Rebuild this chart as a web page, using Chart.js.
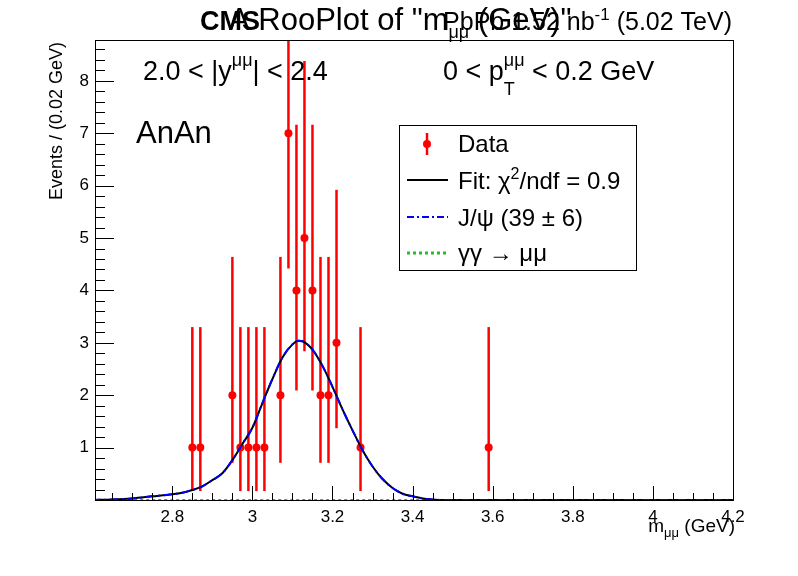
<!DOCTYPE html>
<html>
<head>
<meta charset="utf-8">
<script src="https://cdn.jsdelivr.net/npm/chart.js@4"></script>
<style>
html, body { margin: 0; padding: 0; background: #fff; }
</style>
</head>
<body>
<canvas id="myChart" width="798" height="576"></canvas>
<script>
// data
var massBins = [2.85, 2.87, 2.95, 2.97, 2.99, 3.01, 3.03, 3.07, 3.09, 3.11, 3.13, 3.15, 3.17, 3.19, 3.21, 3.27, 3.59];
var counts   = [1, 1, 2, 1, 1, 1, 1, 2, 7, 4, 5, 4, 2, 2, 3, 1, 1];
var errLow   = [0.17, 0.17, 0.71, 0.17, 0.17, 0.17, 0.17, 0.71, 4.42, 2.09, 2.84, 2.09, 0.71, 0.71, 1.37, 0.17, 0.17];
var errHigh  = [3.30, 3.30, 4.64, 3.30, 3.30, 3.30, 3.30, 4.64, 10.77, 7.16, 8.38, 7.16, 4.64, 4.64, 5.92, 3.30, 3.30];

var curveMass  = [2.60, 2.65, 2.70, 2.75, 2.80, 2.825, 2.85, 2.875, 2.90, 2.925, 2.95, 2.975, 3.00, 3.025, 3.05, 3.075, 3.10, 3.115, 3.125, 3.15, 3.175, 3.20, 3.225, 3.25, 3.275, 3.30, 3.325, 3.35, 3.375, 3.40, 3.425, 3.45, 3.475, 4.20];
var fitValues  = [0.00, 0.01, 0.03, 0.07, 0.11, 0.14, 0.19, 0.26, 0.38, 0.51, 0.76, 1.07, 1.38, 1.85, 2.31, 2.72, 2.97, 3.04, 3.03, 2.87, 2.56, 2.16, 1.73, 1.33, 0.95, 0.64, 0.40, 0.23, 0.12, 0.07, 0.03, 0.01, 0.00, 0.00];
var jpsiValues = [0.00, 0.01, 0.03, 0.07, 0.11, 0.14, 0.19, 0.26, 0.38, 0.51, 0.76, 1.07, 1.38, 1.85, 2.31, 2.72, 2.97, 3.04, 3.03, 2.87, 2.56, 2.16, 1.73, 1.33, 0.95, 0.64, 0.40, 0.23, 0.12, 0.07, 0.03, 0.01, 0.00, 0.00];
var ggMass     = [2.60, 4.20];
var ggValues   = [0.00, 0.00];

var xTicks = [2.8, 3, 3.2, 3.4, 3.6, 3.8, 4, 4.2];
var yTicks = [1, 2, 3, 4, 5, 6, 7, 8];

var FONT = '"Liberation Sans", Arial, sans-serif';

function toXY(xs, ys) {
    return xs.map(function (x, i) { return {x: x, y: ys[i]}; });
}

// draws text with sub/superscripts; each part: t, s (size), dy, bold, stay
function drawRich(ctx, parts, x, y, align) {
    var total = 0;
    parts.forEach(function (p) {
        ctx.font = (p.bold ? 'bold ' : '') + p.s + 'px ' + FONT;
        p.w = ctx.measureText(p.t).width;
        if (!p.stay) total += p.w;
    });
    var cx = align === 'right' ? x - total : x;
    ctx.textAlign = 'left';
    ctx.textBaseline = 'alphabetic';
    parts.forEach(function (p) {
        ctx.font = (p.bold ? 'bold ' : '') + p.s + 'px ' + FONT;
        ctx.fillText(p.t, cx, y + (p.dy || 0));
        if (!p.stay) cx += p.w;
    });
}

var rootStyle = {
    id: 'rootStyle',
    beforeDatasetDraw: function (chart, args) {
        if (args.index !== 3) return;
        var ctx = chart.ctx, xs = chart.scales.x, ys = chart.scales.y, a = chart.chartArea;
        ctx.save();
        ctx.beginPath();
        ctx.rect(a.left, a.top, a.right - a.left, a.bottom - a.top);
        ctx.clip();
        ctx.strokeStyle = '#ff0000';
        ctx.lineWidth = 2.5;
        massBins.forEach(function (m, i) {
            var px = xs.getPixelForValue(m);
            ctx.beginPath();
            ctx.moveTo(px, ys.getPixelForValue(errLow[i]));
            ctx.lineTo(px, ys.getPixelForValue(errHigh[i]));
            ctx.stroke();
        });
        ctx.restore();
    },
    afterDatasetsDraw: function (chart) {
        var ctx = chart.ctx, xs = chart.scales.x, ys = chart.scales.y, a = chart.chartArea;
        ctx.save();
        ctx.strokeStyle = '#000';
        ctx.lineWidth = 1;
        ctx.strokeRect(a.left + 0.5, a.top + 0.5, a.right - a.left, a.bottom - a.top);

        // x ticks (inside)
        var v, px, i;
        for (i = 0; i <= 32; i++) {
            v = 2.6 + i * 0.05;
            px = Math.round(xs.getPixelForValue(v)) + 0.5;
            if (px < a.left + 1 || px > a.right) continue;
            var major = i % 4 === 0;
            ctx.beginPath();
            ctx.moveTo(px, a.bottom);
            ctx.lineTo(px, a.bottom - (major ? 14 : 7));
            ctx.stroke();
        }
        // y ticks (inside)
        for (i = 1; i <= 44; i++) {
            v = i * 0.2;
            if (v > ys.max) break;
            var py = Math.round(ys.getPixelForValue(v)) + 0.5;
            var maj = i % 5 === 0;
            ctx.beginPath();
            ctx.moveTo(a.left, py);
            ctx.lineTo(a.left + (maj ? 19 : 10), py);
            ctx.stroke();
        }
        ctx.restore();

        ctx.save();
        ctx.fillStyle = '#000';
        // titles on top
        drawRich(ctx, [{t: 'CMS', s: 27, bold: true}], 200, 30);
        drawRich(ctx, [{t: 'A RooPlot of "m', s: 31}, {t: '\u03bc\u03bc', s: 18, dy: 8}, {t: ' (GeV)"', s: 31}], 229, 30);
        drawRich(ctx, [{t: 'PbPb 1.52 nb', s: 25}, {t: '-1', s: 17, dy: -10}, {t: ' (5.02 TeV)', s: 25}], 732, 30, 'right');

        // labels in the frame
        drawRich(ctx, [{t: '2.0 < |y', s: 27}, {t: '\u03bc\u03bc', s: 18, dy: -14}, {t: '| < 2.4', s: 27}], 143, 80);
        drawRich(ctx, [{t: '0 < p', s: 27}, {t: 'T', s: 18, dy: 15, stay: true}, {t: '\u03bc\u03bc', s: 18, dy: -14}, {t: ' < 0.2 GeV', s: 27}], 443, 80);
        drawRich(ctx, [{t: 'AnAn', s: 31}], 136, 143);

        // axis titles
        drawRich(ctx, [{t: 'm', s: 19}, {t: '\u03bc\u03bc', s: 13, dy: 5}, {t: ' (GeV)', s: 19}], 735, 532, 'right');
        ctx.save();
        ctx.translate(62, 42);
        ctx.rotate(-Math.PI / 2);
        ctx.font = '18px ' + FONT;
        ctx.textAlign = 'right';
        ctx.fillText('Events / (0.02 GeV)', 0, 0);
        ctx.restore();

        // legend
        ctx.fillStyle = '#fff';
        ctx.fillRect(400, 126, 236, 144);
        ctx.strokeStyle = '#000';
        ctx.lineWidth = 1;
        ctx.strokeRect(399.5, 125.5, 237, 145);

        ctx.fillStyle = '#000';
        drawRich(ctx, [{t: 'Data', s: 24}], 458, 152);
        drawRich(ctx, [{t: 'Fit: \u03c7', s: 24}, {t: '2', s: 16, dy: -10}, {t: '/ndf = 0.9', s: 24}], 458, 189);
        drawRich(ctx, [{t: 'J/\u03c8 (39 \u00b1 6)', s: 24}], 458, 226);
        drawRich(ctx, [{t: '\u03b3\u03b3 \u2192 \u03bc\u03bc', s: 24}], 458, 261);

        ctx.strokeStyle = '#ff0000';
        ctx.lineWidth = 2.5;
        ctx.beginPath(); ctx.moveTo(427, 133); ctx.lineTo(427, 155); ctx.stroke();
        ctx.fillStyle = '#ff0000';
        ctx.beginPath(); ctx.arc(427, 144, 4, 0, Math.PI * 2); ctx.fill();

        ctx.lineWidth = 2;
        ctx.strokeStyle = '#000';
        ctx.beginPath(); ctx.moveTo(407, 180); ctx.lineTo(448, 180); ctx.stroke();
        ctx.strokeStyle = '#0000ff';
        ctx.setLineDash([7, 3, 2, 3]);
        ctx.beginPath(); ctx.moveTo(407, 217); ctx.lineTo(448, 217); ctx.stroke();
        ctx.strokeStyle = '#22c022';
        ctx.lineWidth = 3;
        ctx.setLineDash([3, 3]);
        ctx.beginPath(); ctx.moveTo(407, 253); ctx.lineTo(448, 253); ctx.stroke();
        ctx.restore();
    }
};

var ctx = document.getElementById('myChart').getContext('2d');
var myChart = new Chart(ctx, {
    type: 'scatter',
    data: {
        datasets: [{
            label: 'J/psi',
            type: 'line',
            data: toXY(curveMass, jpsiValues),
            borderColor: '#0000ff',
            borderWidth: 2,
            borderDash: [8, 4, 2, 4],
            pointRadius: 0,
            fill: false,
            cubicInterpolationMode: 'monotone',
            order: 0
        }, {
            label: 'Fit',
            type: 'line',
            data: toXY(curveMass, fitValues),
            borderColor: '#000000',
            borderWidth: 2,
            pointRadius: 0,
            fill: false,
            cubicInterpolationMode: 'monotone',
            order: 1
        }, {
            label: 'gamma gamma',
            type: 'line',
            data: toXY(ggMass, ggValues),
            borderColor: '#22c022',
            borderWidth: 2,
            borderDash: [3, 3],
            pointRadius: 0,
            fill: false,
            order: 2
        }, {
            label: 'Data',
            data: toXY(massBins, counts),
            backgroundColor: '#ff0000',
            borderColor: '#ff0000',
            pointRadius: 4,
            borderWidth: 0,
            order: 3
        }]
    },
    options: {
        responsive: false,
        animation: false,
        events: [],
        layout: {padding: {top: 40, right: 65, left: 0, bottom: 0}},
        plugins: {
            legend: {display: false},
            tooltip: {enabled: false}
        },
        scales: {
            x: {
                type: 'linear',
                min: 2.607,
                max: 4.2,
                afterBuildTicks: function (s) { s.ticks = xTicks.map(function (v) { return {value: v}; }); },
                afterFit: function (s) { s.height = 76; },
                grid: {display: false, drawTicks: false},
                border: {display: false},
                ticks: {
                    font: {family: FONT, size: 17},
                    color: '#000',
                    padding: 7,
                    maxRotation: 0,
                    autoSkip: false,
                    callback: function (v) { return String(v); }
                }
            },
            y: {
                type: 'linear',
                min: 0,
                max: 8.78,
                afterBuildTicks: function (s) { s.ticks = yTicks.map(function (v) { return {value: v}; }); },
                afterFit: function (s) { s.width = 95; },
                grid: {display: false, drawTicks: false},
                border: {display: false},
                ticks: {
                    font: {family: FONT, size: 17},
                    color: '#000',
                    padding: 6,
                    autoSkip: false,
                    callback: function (v) { return String(v); }
                }
            }
        }
    },
    plugins: [rootStyle]
});
</script>
</body>
</html>
